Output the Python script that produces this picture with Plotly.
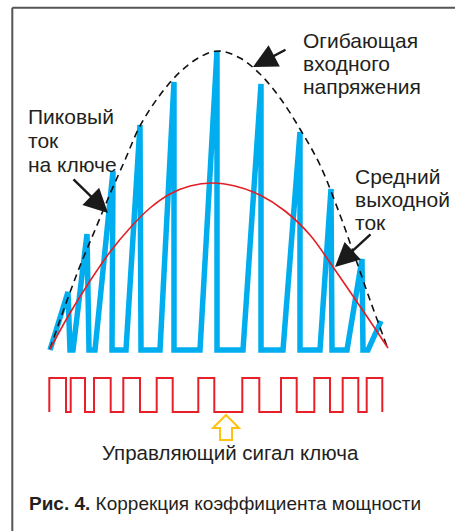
import plotly.graph_objects as go

W, H = 455, 531

# ---- data (time t, amplitude a) ----
rise_start_t = [0, 23, 45, 76, 110, 150, 193, 233, 270, 297, 318]
peak_t = [18, 37, 63, 90, 124, 167, 211, 250, 281, 312, 331]
peak_a = [58, 116, 179, 225, 268, 299, 266, 218, 161, 91, 29]
drop_end_t = [20, 39, 62, 91, 124, 167, 211, 250, 282, 313]

env_t = [0, 15, 30, 45, 60, 75, 90, 110, 130, 150, 168, 190, 210, 230, 250, 270, 290, 305, 320, 338]
env_a = [1, 44, 84, 120, 156, 190, 224, 255, 278, 293, 299, 292, 276, 252, 221, 185, 135, 93, 50, 1]

avg_t = [0, 20, 40, 60, 80, 100, 120, 140, 162, 185, 210, 235, 260, 283, 307, 322, 338]
avg_a = [1, 37, 69, 98, 122, 142, 156, 164, 167, 164, 155, 139, 115, 83, 48, 26, 2]

ctrl_edges_t = [-0.7, 16, 20.7, 35, 44, 60.7, 73.3, 90, 106.7, 122.7, 148.3, 164.3,
                192.3, 209.3, 231, 246.7, 264.3, 280, 292.7, 308.3, 316.7, 332.3]

labels_env = ["Огибающая", "входного", "напряжения"]
labels_peak = ["Пиковый", "ток", "на ключе"]
labels_avg = ["Средний", "выходной", "ток"]
label_ctrl = "Управляющий сигал ключа"
caption_bold = "Рис. 4."
caption_text = "Коррекция коэффициента мощности"

# ---- build traces ----
bx, by = [], []
for i in range(len(peak_t)):
    bx += [rise_start_t[i], peak_t[i]]
    by += [0, peak_a[i]]
    if i < len(drop_end_t):
        bx.append(drop_end_t[i])
        by.append(0)

cx, cy = [ctrl_edges_t[0]], [0]
state = 1
for e in ctrl_edges_t:
    cx.append(e)
    cy.append(state)
    state = 1 - state

fig = go.Figure()
fig.add_trace(go.Scatter(x=bx, y=by, mode="lines",
                         line=dict(color="#00AEEF", width=5.5), hoverinfo="skip"))
fig.add_trace(go.Scatter(x=env_t, y=env_a, mode="lines",
                         line=dict(color="#111111", width=1.6, dash="7px,5px", shape="spline"),
                         hoverinfo="skip"))
fig.add_trace(go.Scatter(x=avg_t, y=avg_a, mode="lines",
                         line=dict(color="#E31E24", width=1.6, shape="spline"), hoverinfo="skip"))
fig.add_trace(go.Scatter(x=cx, y=cy, mode="lines", yaxis="y2",
                         line=dict(color="#E8202A", width=2, shape="hv"), hoverinfo="skip"))


def P(x, y):
    return x / W, 1 - y / H


TXT = "#231F20"
FONT = "Liberation Sans"
ann = []


def text(s, x, y, size=21, family=FONT):
    px, py = P(x, y)
    ann.append(dict(x=px, y=py, xref="paper", yref="paper", text=s, showarrow=False,
                    xanchor="left", yanchor="middle",
                    font=dict(family=family, size=size, color=TXT)))


for i, s in enumerate(labels_env):
    text(s, 301, 40 + i * 23.5)
for i, s in enumerate(labels_peak):
    text(s, 26, 117 + i * 23.5)
for i, s in enumerate(labels_avg):
    text(s, 353, 176 + i * 23.5)
text(label_ctrl, 100, 452, size=20.5)
text("<b>" + caption_bold + "</b> " + caption_text, 27, 503, size=19)


def arrow(tipx, tipy, tailx, taily):
    px, py = P(tipx, tipy)
    ann.append(dict(x=px, y=py, xref="paper", yref="paper", ax=tailx - tipx, ay=taily - tipy,
                    axref="pixel", ayref="pixel", showarrow=True, text="",
                    arrowhead=2, arrowsize=2.0, arrowwidth=2.4, arrowcolor="#1A1A1A"))


arrow(253, 67, 287, 49)
arrow(108, 213, 72, 178)
arrow(335, 267, 372, 233)

# yellow hollow arrow
pts = [(226, 415), (213, 428), (220, 428), (220, 440), (232, 440), (232, 428), (239, 428)]
path = "M " + " L ".join(f"{P(x, y)[0]:.5f},{P(x, y)[1]:.5f}" for x, y in pts) + " Z"
shapes = [
    dict(type="path", path=path, xref="paper", yref="paper",
         line=dict(color="#FFC20E", width=2), fillcolor="white"),
    dict(type="line", xref="paper", yref="paper", x0=P(12.3, 0)[0], x1=P(12.3, 0)[0],
         y0=P(0, 7.7)[1], y1=0, line=dict(color="#555555", width=2)),
    dict(type="line", xref="paper", yref="paper", x0=P(12.3, 0)[0], x1=1,
         y0=P(0, 7.7)[1], y1=P(0, 7.7)[1], line=dict(color="#555555", width=2)),
]

fig.update_layout(
    width=W, height=H, margin=dict(l=0, r=0, t=0, b=0),
    paper_bgcolor="white", plot_bgcolor="white", showlegend=False,
    xaxis=dict(range=[-50, 405], visible=False, fixedrange=True),
    yaxis=dict(range=[-181, 350], visible=False, fixedrange=True),
    yaxis2=dict(range=[-3.5, 12.118], overlaying="y", visible=False, fixedrange=True),
    annotations=ann, shapes=shapes,
)

fig.write_html("out.html", config={"displayModeBar": False},
               post_script="document.body.style.margin='0';document.body.style.overflow='hidden';")
